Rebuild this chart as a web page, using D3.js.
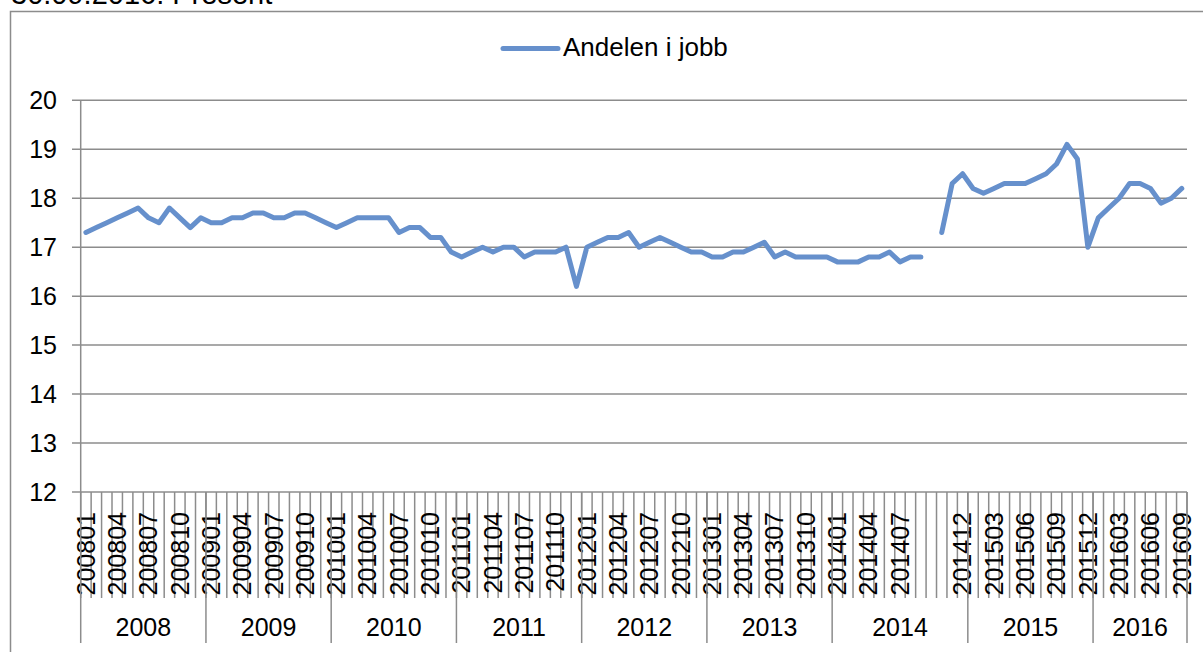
<!DOCTYPE html>
<html>
<head>
<meta charset="utf-8">
<script src="https://cdn.jsdelivr.net/npm/d3@7"></script>
<style>
  body { margin: 0; background: #fff; }
  svg { display: block; font-family: Arial, "Liberation Sans", sans-serif; }
</style>
</head>
<body>
<div id="chart"></div>
<script>
// Month categories (one blank row sits between 201409 and 201410 in the source)
const categories = [
  '200801','200802','200803','200804','200805','200806','200807','200808','200809','200810','200811','200812',
  '200901','200902','200903','200904','200905','200906','200907','200908','200909','200910','200911','200912',
  '201001','201002','201003','201004','201005','201006','201007','201008','201009','201010','201011','201012',
  '201101','201102','201103','201104','201105','201106','201107','201108','201109','201110','201111','201112',
  '201201','201202','201203','201204','201205','201206','201207','201208','201209','201210','201211','201212',
  '201301','201302','201303','201304','201305','201306','201307','201308','201309','201310','201311','201312',
  '201401','201402','201403','201404','201405','201406','201407','201408','201409','','201410','201411','201412',
  '201501','201502','201503','201504','201505','201506','201507','201508','201509','201510','201511','201512',
  '201601','201602','201603','201604','201605','201606','201607','201608','201609'
];

const values = [
  17.3, 17.4, 17.5, 17.6, 17.7, 17.8, 17.6, 17.5, 17.8, 17.6, 17.4, 17.6,
  17.5, 17.5, 17.6, 17.6, 17.7, 17.7, 17.6, 17.6, 17.7, 17.7, 17.6, 17.5,
  17.4, 17.5, 17.6, 17.6, 17.6, 17.6, 17.3, 17.4, 17.4, 17.2, 17.2, 16.9,
  16.8, 16.9, 17.0, 16.9, 17.0, 17.0, 16.8, 16.9, 16.9, 16.9, 17.0, 16.2,
  17.0, 17.1, 17.2, 17.2, 17.3, 17.0, 17.1, 17.2, 17.1, 17.0, 16.9, 16.9,
  16.8, 16.8, 16.9, 16.9, 17.0, 17.1, 16.8, 16.9, 16.8, 16.8, 16.8, 16.8,
  16.7, 16.7, 16.7, 16.8, 16.8, 16.9, 16.7, 16.8, 16.8, null, 17.3, 18.3, 18.5,
  18.2, 18.1, 18.2, 18.3, 18.3, 18.3, 18.4, 18.5, 18.7, 19.1, 18.8, 17.0,
  17.6, 17.8, 18.0, 18.3, 18.3, 18.2, 17.9, 18.0, 18.2
];

const years = ['2008', '2009', '2010', '2011', '2012', '2013', '2014', '2015', '2016'];
const yearCounts = [12, 12, 12, 12, 12, 12, 13, 12, 9];

const yTicks = [12, 13, 14, 15, 16, 17, 18, 19, 20];
const seriesName = 'Andelen i jobb';
const titleText = '30.09.2016: Present';

const W = 1203, H = 652;
const plotLeft = 80.7, plotRight = 1187, plotTop = 100.3, plotBottom = 492;
const gridColour = '#8c8c8c';
const lineColour = '#6690cc';

const svg = d3.select('#chart').append('svg')
  .attr('width', W)
  .attr('height', H);

// Title, mostly cut off at the top edge
svg.append('text')
  .attr('x', 11)
  .attr('y', 4)
  .style('font-size', '29px')
  .style('fill', '#000')
  .text(titleText);

// Chart frame (only left and top visible)
svg.append('path')
  .attr('d', `M10.5,${H}V11.5H${W}`)
  .attr('fill', 'none')
  .attr('stroke', gridColour)
  .attr('stroke-width', 1.5);

// Scales
const x = d3.scaleBand()
  .domain(d3.range(categories.length))
  .range([plotLeft, plotRight])
  .paddingInner(0)
  .paddingOuter(0);

const y = d3.scaleLinear()
  .domain([12, 20])
  .range([plotBottom, plotTop]);

const xc = i => x(i) + x.bandwidth() / 2;
const xEdge = i => i < categories.length ? x(i) : plotRight;

// Gridlines + y axis labels
svg.append('g')
  .selectAll('line')
  .data(yTicks)
  .enter()
  .append('line')
  .attr('x1', 72)
  .attr('x2', plotRight)
  .attr('y1', d => y(d))
  .attr('y2', d => y(d))
  .attr('stroke', gridColour)
  .attr('stroke-width', 1.5);

svg.append('g')
  .selectAll('text')
  .data(yTicks)
  .enter()
  .append('text')
  .attr('x', 57)
  .attr('y', d => y(d))
  .attr('dy', '0.35em')
  .attr('text-anchor', 'end')
  .style('font-size', '25px')
  .text(d => d);

// Y axis line
svg.append('line')
  .attr('x1', plotLeft).attr('x2', plotLeft)
  .attr('y1', plotTop).attr('y2', plotBottom)
  .attr('stroke', gridColour)
  .attr('stroke-width', 1.5);

// Category tick marks at every boundary
svg.append('g')
  .selectAll('line')
  .data(d3.range(categories.length + 1))
  .enter()
  .append('line')
  .attr('x1', xEdge).attr('x2', xEdge)
  .attr('y1', plotBottom).attr('y2', 598)
  .attr('stroke', gridColour)
  .attr('stroke-width', 1.5);

// Month labels, every third category
svg.append('g')
  .selectAll('text')
  .data(d3.range(0, categories.length, 3))
  .enter()
  .append('text')
  .attr('transform', i => `translate(${xc(i)},512) rotate(-90)`)
  .attr('dy', '0.35em')
  .attr('text-anchor', 'end')
  .style('font-size', '25px')
  .text(i => categories[i]);

// Year groups
const yearStarts = [];
let acc = 0;
yearCounts.forEach(c => { yearStarts.push(acc); acc += c; });

svg.append('g')
  .selectAll('line')
  .data([...yearStarts, categories.length])
  .enter()
  .append('line')
  .attr('x1', xEdge).attr('x2', xEdge)
  .attr('y1', plotBottom).attr('y2', 643)
  .attr('stroke', gridColour)
  .attr('stroke-width', 1.5);

svg.append('g')
  .selectAll('text')
  .data(years)
  .enter()
  .append('text')
  .attr('x', (d, k) => (xEdge(yearStarts[k]) + xEdge(yearStarts[k] + yearCounts[k])) / 2)
  .attr('y', 636)
  .attr('text-anchor', 'middle')
  .style('font-size', '25px')
  .text(d => d);

// Series line
const line = d3.line()
  .defined(d => d != null)
  .x((d, i) => xc(i))
  .y(d => y(d));

svg.append('path')
  .datum(values)
  .attr('d', line)
  .attr('fill', 'none')
  .attr('stroke', lineColour)
  .attr('stroke-width', 5)
  .attr('stroke-linejoin', 'round')
  .attr('stroke-linecap', 'round');

// Legend
svg.append('line')
  .attr('x1', 503).attr('x2', 558)
  .attr('y1', 48.5).attr('y2', 48.5)
  .attr('stroke', lineColour)
  .attr('stroke-width', 5)
  .attr('stroke-linecap', 'round');

svg.append('text')
  .attr('x', 563)
  .attr('y', 56)
  .style('font-size', '26px')
  .text(seriesName);
</script>
</body>
</html>
